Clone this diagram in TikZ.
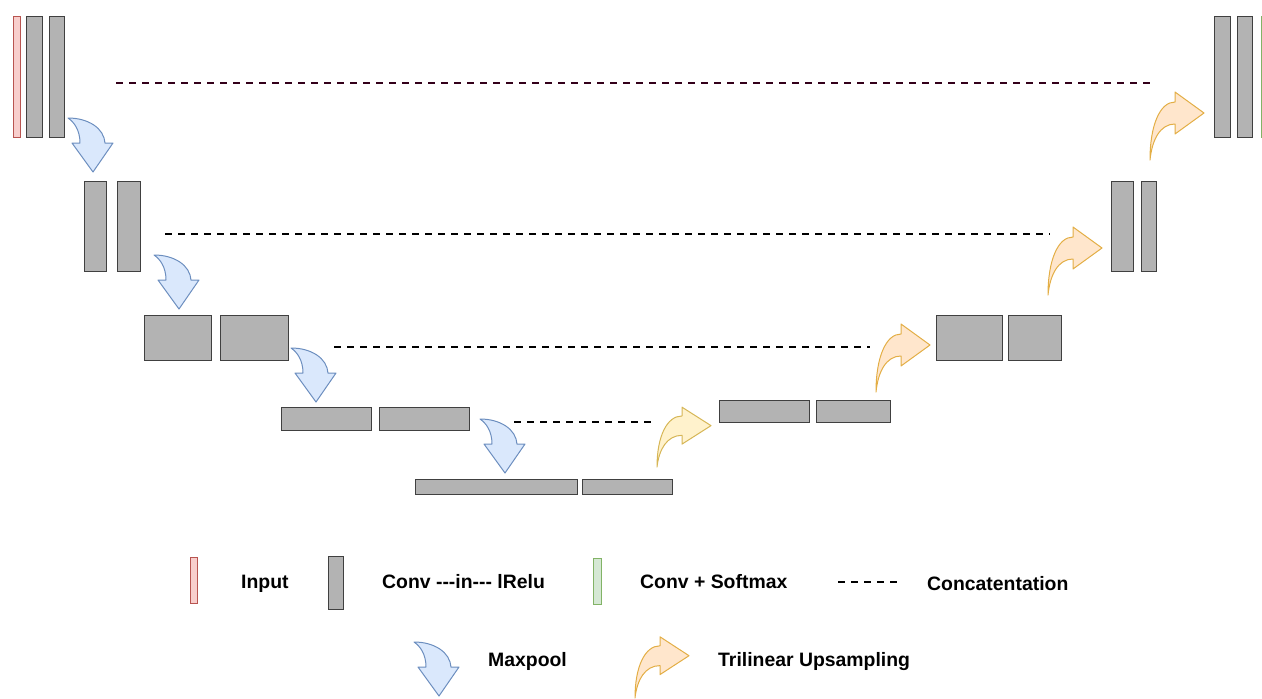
\documentclass[tikz,border=0pt]{standalone}
\usepackage{fontspec}
\setmainfont{Liberation Sans}
\usetikzlibrary{positioning}

\definecolor{convfill}{HTML}{B3B3B3}
\definecolor{convedge}{HTML}{404040}
\definecolor{infill}{HTML}{F8CECC}
\definecolor{inedge}{HTML}{B85450}
\definecolor{outfill}{HTML}{D5E8D4}
\definecolor{outedge}{HTML}{82B366}
\definecolor{poolfill}{HTML}{DAE8FC}
\definecolor{pooledge}{HTML}{6C8EBF}
\definecolor{orangefill}{HTML}{FFE6CC}
\definecolor{orangeedge}{HTML}{E3AE45}
\definecolor{yellowfill}{HTML}{FFF2CC}
\definecolor{yellowedge}{HTML}{D6B656}
\definecolor{topskip}{HTML}{33001A}

\begin{document}
\begin{tikzpicture}[x=1pt, y=-1pt,
    blk/.style={rectangle, draw=convedge, fill=convfill, line width=1pt, inner sep=0pt},
    inp/.style={rectangle, draw=inedge, fill=infill, line width=1pt, inner sep=0pt},
    outp/.style={rectangle, draw=outedge, fill=outfill, line width=1pt, inner sep=0pt},
    sz/.style 2 args={minimum width=#1pt, minimum height=#2pt},
    lbl/.style={font=\bfseries\fontsize{19.4}{23}\selectfont, anchor=base west, inner sep=0pt},
    skip/.style={line width=2pt, dash pattern=on 7pt off 6pt},
    maxpool/.pic={\path[draw=pooledge, fill=poolfill, line width=1pt, line join=round]
        (0,0) .. controls (20,0) and (36,10) .. (37,25) -- (45,25) -- (25,54) -- (4,25) -- (12,25)
        .. controls (12,12) and (6,4) .. cycle;},
    upsample/.pic={\path[draw=#1edge, fill=#1fill, line width=1pt, line join=round]
        (0,0) .. controls (0,-35) and (10,-58) .. (25,-58) -- (25,-68) -- (54,-47) -- (25,-26) -- (25,-36)
        .. controls (10,-36) and (2,-20) .. cycle;}]
    \useasboundingbox (0,0) rectangle (1262,699);
    \clip (0,0) rectangle (1262,699);

    % encoder
    \node[inp, sz={7}{121}] (in1) at (16.5,76.5) {};
    \node[blk, sz={16}{121}] (c1a) at (34,76.5) {};
    \node[blk, sz={15}{121}] (c1b) at (56.8,76.5) {};
    \node[blk, sz={22}{90}] (c2a) at (95,226) {};
    \node[blk, sz={23}{90}] (c2b) at (128.5,226) {};
    \node[blk, sz={67}{45}] (c3a) at (178,337.5) {};
    \node[blk, sz={68}{45}] (c3b) at (254.8,337.5) {};
    \node[blk, sz={90}{23}] (c4a) at (326,418.5) {};
    \node[blk, sz={90}{23}] (c4b) at (424,418.5) {};
    \node[blk, sz={162}{15}] (c5a) at (496,487) {};
    \node[blk, sz={90}{15}] (c5b) at (627.5,487) {};

    % decoder
    \node[blk, sz={90}{22}] (u4a) at (764,411) {};
    \node[blk, sz={74}{22}] (u4b) at (853,411) {};
    \node[blk, sz={66}{45}] (u3a) at (969,337.5) {};
    \node[blk, sz={53}{45}] (u3b) at (1034.5,337.5) {};
    \node[blk, sz={22}{90}] (u2a) at (1122,226) {};
    \node[blk, sz={15}{90}] (u2b) at (1148.5,226) {};
    \node[blk, sz={16}{121}] (u1a) at (1222,76.5) {};
    \node[blk, sz={15}{121}] (u1b) at (1245,76.5) {};
    \node[outp, sz={8}{121}] (out1) at (1265,76.5) {};

    % maxpool / upsampling
    \pic at (68,118) {maxpool};
    \pic at (154,255) {maxpool};
    \pic at (291,348) {maxpool};
    \pic at (480,419) {maxpool};
    \pic[yscale=0.88] at (657,467) {upsample=yellow};
    \pic at (876,392) {upsample=orange};
    \pic at (1048,295) {upsample=orange};
    \pic at (1150,160) {upsample=orange};

    % skip connections
    \coordinate (s1l) at (116,83);  \coordinate (s1r) at (1153,83);
    \coordinate (s2l) at (165,234); \coordinate (s2r) at (1050,234);
    \coordinate (s3l) at (334,347); \coordinate (s3r) at (870,347);
    \coordinate (s4l) at (514,422); \coordinate (s4r) at (657,422);
    \draw[skip, topskip] (s1l) -- (s1r);
    \draw[skip] (s2l) -- (s2r);
    \draw[skip] (s3l) -- (s3r);
    \draw[skip] (s4l) -- (s4r);

    % legend
    \node[inp, sz={7}{46}] (lin) at (193.5,580) {};
    \node[lbl] (tin) at (241,588.5) {Input};
    \node[blk, sz={15}{53}] (lconv) at (336,582.5) {};
    \node[lbl] (tconv) at (382,588.5) {Conv {-}{-}{-}in{-}{-}{-} lRelu};
    \node[outp, sz={8}{46}] (lout) at (597.5,581) {};
    \node[lbl] (tout) at (640,588.5) {Conv + Softmax};
    \coordinate (ldl) at (838,582); \coordinate (ldr) at (900,582);
    \draw[skip] (ldl) -- (ldr);
    \node[lbl] (tcat) at (927,590) {Concatentation};
    \pic at (414,642) {maxpool};
    \node[lbl] (tpool) at (488,666.5) {Maxpool};
    \pic[yscale=0.9] at (635,698) {upsample=orange};
    \node[lbl] (tup) at (718,666.5) {Trilinear Upsampling};
\end{tikzpicture}
\end{document}
